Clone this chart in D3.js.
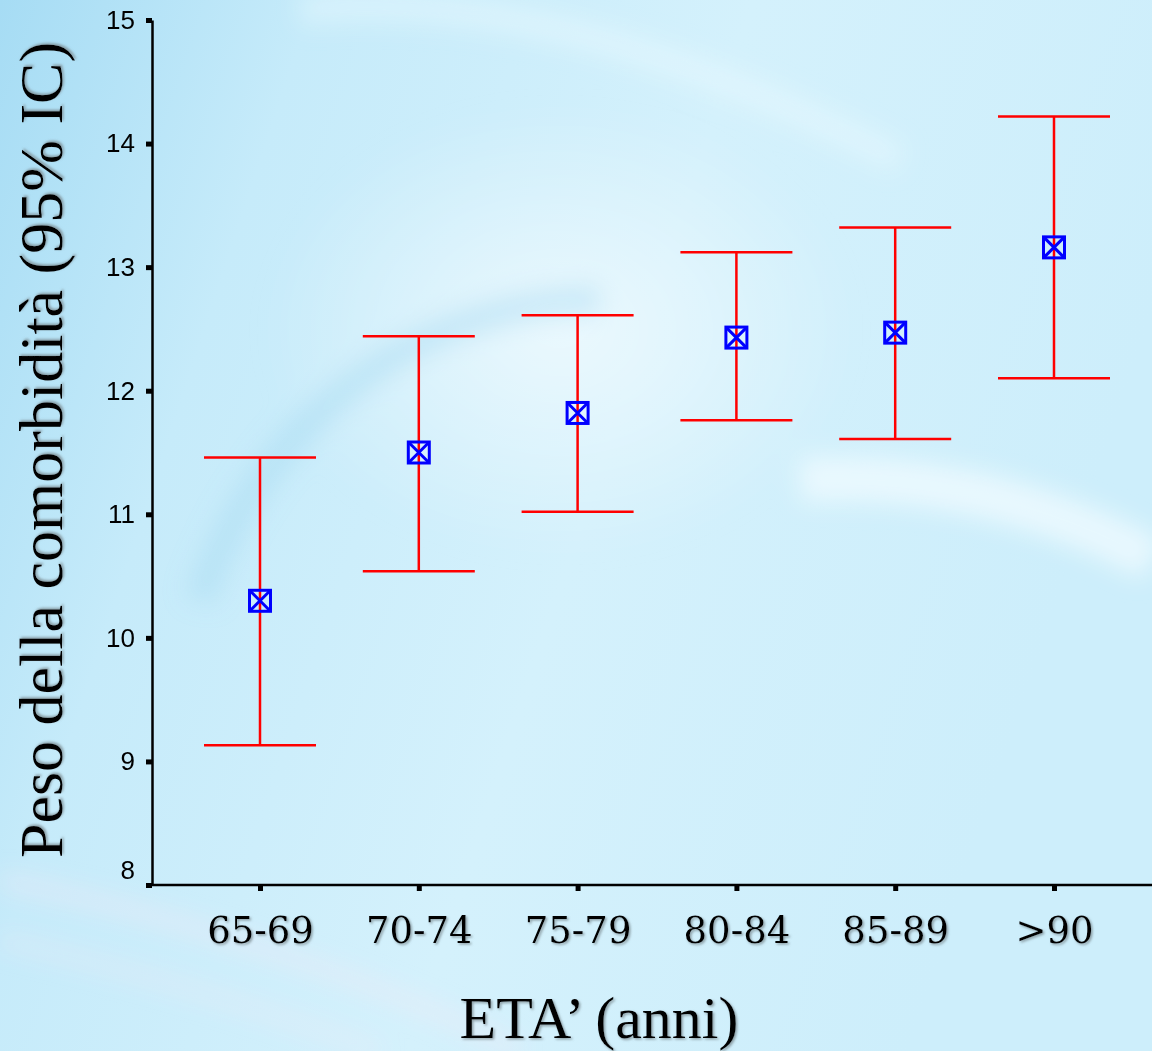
<!DOCTYPE html>
<html><head><meta charset="utf-8">
<script src="https://cdn.jsdelivr.net/npm/d3@7"></script>
<style>html,body{margin:0;padding:0;overflow:hidden;}</style>
</head><body>
<svg id="chart" width="1152" height="1051"></svg>
<script>
const categories = ["65-69","70-74","75-79","80-84","85-89",">90"];
const means = [10.30, 11.50, 11.82, 12.43, 12.47, 13.16];
const lower = [9.13, 10.54, 11.02, 11.76, 11.61, 12.10];
const upper = [11.46, 12.44, 12.61, 13.12, 13.32, 14.22];
const yTicks = [8,9,10,11,12,13,14,15];

const svg = d3.select("#chart");
const defs = svg.append("defs");
const bg = defs.append("linearGradient").attr("id","bg").attr("x1","0").attr("y1","0").attr("x2","1").attr("y2","0.3");
bg.append("stop").attr("offset","0").attr("stop-color","#a6dcf4");
bg.append("stop").attr("offset","0.25").attr("stop-color","#c6ebfa");
bg.append("stop").attr("offset","0.6").attr("stop-color","#d4f1fc");
bg.append("stop").attr("offset","1").attr("stop-color","#cdeefb");
const rg = defs.append("radialGradient").attr("id","glow").attr("cx","0.5").attr("cy","0.5").attr("r","0.5");
rg.append("stop").attr("offset","0").attr("stop-color","#ffffff").attr("stop-opacity",0.55);
rg.append("stop").attr("offset","1").attr("stop-color","#ffffff").attr("stop-opacity",0);
const blur = defs.append("filter").attr("id","blur").attr("x","-20%").attr("y","-20%").attr("width","140%").attr("height","140%");
blur.append("feGaussianBlur").attr("stdDeviation",12);
const sh = defs.append("filter").attr("id","shadow");
sh.append("feDropShadow").attr("dx",1.5).attr("dy",1.5).attr("stdDeviation",0.8).attr("flood-color","#7a8a90").attr("flood-opacity",0.8);

svg.append("rect").attr("width",1152).attr("height",1051).attr("fill","url(#bg)");
// soft background swirls
const deco = svg.append("g").attr("filter","url(#blur)");
deco.append("ellipse").attr("cx",560).attr("cy",330).attr("rx",300).attr("ry",230).attr("fill","url(#glow)");
deco.append("path").attr("d","M300,10 C500,-10 700,60 900,160").attr("stroke","#eafaff").attr("stroke-width",30).attr("fill","none").attr("opacity",0.45);
deco.append("path").attr("d","M800,480 C950,470 1080,520 1152,560").attr("stroke","#f4fcff").attr("stroke-width",45).attr("fill","none").attr("opacity",0.7);
deco.append("path").attr("d","M200,600 C260,420 420,300 600,300").attr("stroke","#9fd6ef").attr("stroke-width",30).attr("fill","none").attr("opacity",0.4);
deco.append("path").attr("d","M0,880 C200,920 400,990 520,1051").attr("stroke","#f3e9f7").attr("stroke-width",10).attr("fill","none").attr("opacity",0.7);
deco.append("path").attr("d","M0,940 C180,980 320,1030 380,1051").attr("stroke","#f3e9f7").attr("stroke-width",8).attr("fill","none").attr("opacity",0.6);

const y = d3.scaleLinear().domain([8,15]).range([885,20]);
const x = d3.scalePoint().domain(categories).range([260,1054]);

// Y axis
const yAxis = svg.append("g").attr("transform","translate(152,0)")
  .call(d3.axisLeft(y).tickValues(yTicks).tickSizeInner(6).tickSizeOuter(0).tickPadding(11).tickFormat(d3.format("d")));
yAxis.select(".domain").attr("stroke","#000").attr("stroke-width",2.5);
yAxis.selectAll(".tick line").attr("stroke","#000").attr("stroke-width",5);
yAxis.selectAll(".tick text").attr("fill","#000").attr("font-family","Liberation Sans, Arial, sans-serif").attr("font-size",26)
  .attr("dy", d => d === 8 ? "-0.25em" : "0.32em");

// X axis
const xAxis = svg.append("g").attr("transform","translate(0,885)")
  .call(d3.axisBottom(x).tickSizeInner(6).tickSizeOuter(0).tickPadding(26));
xAxis.select(".domain").attr("d","M152,0H1152").attr("stroke","#000").attr("stroke-width",2.5);
xAxis.selectAll(".tick line").attr("stroke","#000").attr("stroke-width",5);
xAxis.selectAll(".tick text").attr("fill","#000").attr("font-family","DejaVu Serif, serif").attr("font-size",37).attr("filter","url(#shadow)");

// error bars
const eb = svg.append("g").attr("stroke","#ff0000").attr("stroke-width",2.5);
categories.forEach((c,i)=>{
  const cx = x(c);
  eb.append("line").attr("x1",cx).attr("x2",cx).attr("y1",y(upper[i])).attr("y2",y(lower[i]));
  eb.append("line").attr("x1",cx-56).attr("x2",cx+56).attr("y1",y(upper[i])).attr("y2",y(upper[i]));
  eb.append("line").attr("x1",cx-56).attr("x2",cx+56).attr("y1",y(lower[i])).attr("y2",y(lower[i]));
});
// markers
const mk = svg.append("g").attr("stroke","#0000ff").attr("stroke-width",3).attr("fill","none");
categories.forEach((c,i)=>{
  const cx = x(c), cy = y(means[i]), s = 10.5;
  mk.append("rect").attr("x",cx-s).attr("y",cy-s).attr("width",2*s).attr("height",2*s);
  mk.append("path").attr("d",`M${cx-s},${cy-s}L${cx+s},${cy+s}M${cx+s},${cy-s}L${cx-s},${cy+s}`);
});

// titles
svg.append("text").attr("transform","translate(62,450) rotate(-90)").attr("text-anchor","middle")
  .attr("font-family","Liberation Serif, Times New Roman, serif").attr("font-size",62).attr("fill","#000")
  .attr("filter","url(#shadow)").text("Peso della comorbidità (95% IC)");
svg.append("text").attr("x",599).attr("y",1038).attr("text-anchor","middle")
  .attr("font-family","Liberation Serif, Times New Roman, serif").attr("font-size",60).attr("fill","#000")
  .attr("filter","url(#shadow)").text("ETA’ (anni)");
</script>
</body></html>
